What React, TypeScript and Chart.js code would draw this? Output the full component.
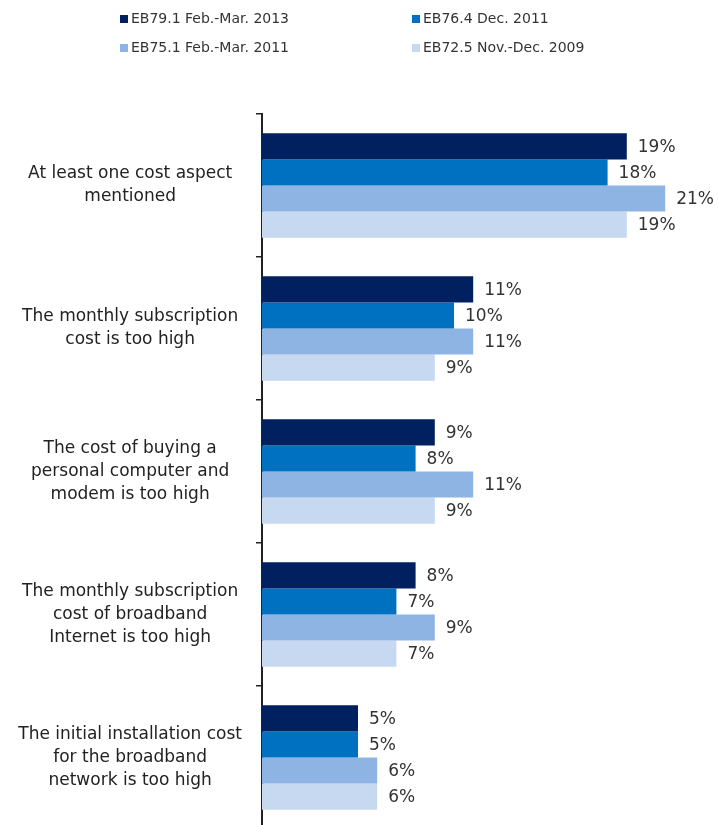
import React, { useEffect, useRef } from "react";
import { Chart, registerables } from "chart.js";

Chart.register(...registerables);

const categories: string[][] = [
  ["At least one cost aspect", "mentioned"],
  ["The monthly subscription", "cost is too high"],
  ["The cost of buying a", "personal computer and", "modem is too high"],
  ["The monthly subscription", "cost of broadband", "Internet is too high"],
  ["The initial installation cost", "for the broadband", "network is too high"],
];

const seriesNames = [
  "EB79.1 Feb.-Mar. 2013",
  "EB76.4 Dec. 2011",
  "EB75.1 Feb.-Mar. 2011",
  "EB72.5 Nov.-Dec. 2009",
];

const eb79 = [19, 11, 9, 8, 5];
const eb76 = [18, 10, 8, 7, 5];
const eb75 = [21, 11, 11, 9, 6];
const eb72 = [19, 9, 9, 7, 6];

const seriesColors = ["#002060", "#0070C0", "#8DB4E2", "#C6D9F1"];

const FONT = "'DejaVu Sans', Verdana, sans-serif";

const valueLabels = {
  id: "valueLabels",
  afterDatasetsDraw(chart: any) {
    const ctx = chart.ctx;
    ctx.save();
    ctx.font = `17px ${FONT}`;
    ctx.fillStyle = "#333333";
    ctx.textAlign = "left";
    ctx.textBaseline = "middle";
    chart.data.datasets.forEach((ds: any, i: number) => {
      const meta = chart.getDatasetMeta(i);
      meta.data.forEach((bar: any, j: number) => {
        ctx.fillText(`${ds.data[j]}%`, bar.x + 11, bar.y + 1);
      });
    });
    ctx.restore();
  },
};

const legendPlugin = {
  id: "customLegend",
  afterDraw(chart: any) {
    const ctx = chart.ctx;
    ctx.save();
    ctx.font = `14px ${FONT}`;
    ctx.textAlign = "left";
    ctx.textBaseline = "middle";
    const cols = [120, 412];
    const rows = [19, 48];
    chart.data.datasets.forEach((ds: any, i: number) => {
      const x = cols[i % 2];
      const y = rows[Math.floor(i / 2)];
      ctx.fillStyle = ds.backgroundColor;
      ctx.fillRect(x, y - 4, 8, 8);
      ctx.fillStyle = "#333333";
      ctx.fillText(ds.label, x + 11, y);
    });
    ctx.restore();
  },
};

export default function App() {
  const ref = useRef<HTMLCanvasElement | null>(null);
  useEffect(() => {
    if (!ref.current) return;
    const data = [eb79, eb76, eb75, eb72];
    const chart = new Chart(ref.current, {
      type: "bar",
      data: {
        labels: categories,
        datasets: seriesNames.map((name, i) => ({
          label: name,
          data: data[i],
          backgroundColor: seriesColors[i],
          borderWidth: 0,
          categoryPercentage: 0.73,
          barPercentage: 1,
        })),
      },
      options: {
        indexAxis: "y",
        animation: false,
        responsive: false,
        maintainAspectRatio: false,
        layout: { padding: { top: 114, right: 0, left: 0, bottom: 0 } },
        plugins: {
          legend: { display: false },
          tooltip: { enabled: false },
        },
        scales: {
          x: {
            display: false,
            min: 0,
            max: 23.75,
          },
          y: {
            afterFit(scale: any) {
              scale.width = 262;
              scale.paddingTop = 0;
              scale.paddingBottom = 0;
            },
            border: { display: true, color: "#222222", width: 2 },
            grid: {
              offset: true,
              drawOnChartArea: false,
              drawTicks: true,
              tickLength: 6,
              color: "#222222",
              lineWidth: 1.5,
            },
            ticks: {
              crossAlign: "center",
              padding: 14,
              color: "#222222",
              font: { family: FONT, size: 17, lineHeight: 1.35 },
            },
          },
        },
      },
      plugins: [valueLabels, legendPlugin],
    });
    return () => chart.destroy();
  }, []);
  return (
    <div style={{ position: "fixed", top: 0, left: 0, width: 718, height: 829, background: "#fff" }}>
      <canvas ref={ref} width={718} height={829} style={{ display: "block" }} />
    </div>
  );
}
